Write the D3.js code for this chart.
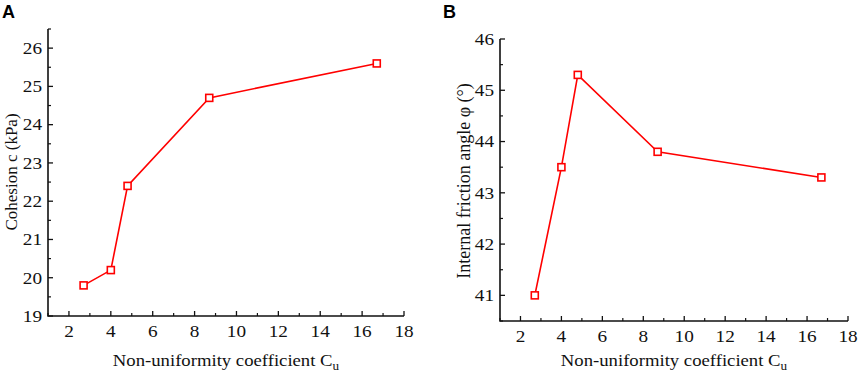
<!DOCTYPE html>
<html>
<head>
<meta charset="utf-8">
<script src="https://cdn.jsdelivr.net/npm/d3@7"></script>
<style>
  body { margin: 0; background: #fff; }
  svg { display: block; }
  .tick-label { font-family: "Liberation Serif", "Times New Roman", serif; font-size: 17.5px; fill: #111; }
  .axis-title { font-family: "Liberation Serif", "Times New Roman", serif; font-size: 17px; fill: #111; }
  .panel-label { font-family: "Liberation Sans", Arial, sans-serif; font-size: 18px; font-weight: bold; fill: #000; }
</style>
</head>
<body>
<div id="chart"></div>
<script>
// data
var cuValues = [2.7, 4.0, 4.8, 8.7, 16.7];
var cohesion = [19.8, 20.2, 22.4, 24.7, 25.6];
var frictionAngle = [41.0, 43.5, 45.3, 43.8, 43.3];

var xTicks = [2, 4, 6, 8, 10, 12, 14, 16, 18];
var cohesionTicks = [19, 20, 21, 22, 23, 24, 25, 26];
var frictionTicks = [41, 42, 43, 44, 45, 46];

// the original figure text is a little wide, so horizontal text gets stretched
var stretch = 1.1;

var svg = d3.select("#chart").append("svg")
  .attr("width", 858)
  .attr("height", 375);

function drawPanel(opt) {
  var g = svg.append("g");

  var x = d3.scaleLinear().domain([1, 18]).range([opt.left, opt.right]);
  var y = d3.scaleLinear().domain(opt.yDomain).range([opt.bottom, opt.top]);

  // minor ticks (every 1 on x, every 0.5 on y)
  var xMinor = d3.range(1, 18.01, 1).filter(d => xTicks.indexOf(d) < 0);
  var yMinor = d3.range(opt.yDomain[0], opt.yDomain[1] + 0.01, 0.5).filter(d => opt.yTicks.indexOf(d) < 0);

  g.selectAll(".xmaj").data(xTicks).enter().append("line")
    .attr("x1", d => x(d)).attr("x2", d => x(d))
    .attr("y1", opt.bottom).attr("y2", opt.bottom - 5)
    .attr("stroke", "#111").attr("stroke-width", 1.3);
  g.selectAll(".xmin").data(xMinor).enter().append("line")
    .attr("x1", d => x(d)).attr("x2", d => x(d))
    .attr("y1", opt.bottom).attr("y2", opt.bottom - 3)
    .attr("stroke", "#111").attr("stroke-width", 1.2);
  g.selectAll(".ymaj").data(opt.yTicks).enter().append("line")
    .attr("y1", d => y(d)).attr("y2", d => y(d))
    .attr("x1", opt.left).attr("x2", opt.left + 5)
    .attr("stroke", "#111").attr("stroke-width", 1.3);
  g.selectAll(".ymin").data(yMinor).enter().append("line")
    .attr("y1", d => y(d)).attr("y2", d => y(d))
    .attr("x1", opt.left).attr("x2", opt.left + 3)
    .attr("stroke", "#111").attr("stroke-width", 1.2);

  // axis lines
  g.append("path")
    .attr("d", "M" + opt.left + "," + opt.top + "V" + opt.bottom + "H" + opt.right)
    .attr("fill", "none").attr("stroke", "#111").attr("stroke-width", 1.6);

  // tick labels
  g.selectAll(".xl").data(xTicks).enter().append("text")
    .attr("class", "tick-label")
    .attr("transform", d => "translate(" + x(d) + "," + (opt.bottom + 21) + ") scale(" + stretch + ",1)")
    .attr("text-anchor", "middle")
    .text(d => d);
  g.selectAll(".yl").data(opt.yTicks).enter().append("text")
    .attr("class", "tick-label")
    .attr("transform", d => "translate(" + (opt.left - 6) + "," + y(d) + ") scale(" + stretch + ",1)")
    .attr("dy", "0.33em")
    .attr("text-anchor", "end")
    .text(d => d);

  // titles
  var xt = g.append("text")
    .attr("class", "axis-title")
    .attr("transform", "translate(" + ((opt.left + opt.right) / 2) + ",366) scale(" + stretch + ",1)")
    .attr("text-anchor", "middle");
  xt.append("tspan").text("Non-uniformity coefficient C");
  xt.append("tspan").attr("dy", 4).attr("font-size", "12px").text("u");

  g.append("text")
    .attr("class", "axis-title")
    .attr("transform", "translate(" + opt.yTitleX + "," + opt.yTitleY + ") rotate(-90)")
    .attr("text-anchor", "middle")
    .style("font-size", opt.yTitleSize + "px")
    .text(opt.yTitle);

  g.append("text")
    .attr("class", "panel-label")
    .attr("x", opt.labelX).attr("y", 18)
    .text(opt.label);

  // series
  var pts = cuValues.map((c, i) => [c, opt.values[i]]);
  var line = d3.line().x(d => x(d[0])).y(d => y(d[1]));
  g.append("path")
    .attr("d", line(pts))
    .attr("fill", "none").attr("stroke", "#ff0000").attr("stroke-width", 1.6);

  g.selectAll(".pt").data(pts).enter().append("rect")
    .attr("x", d => x(d[0]) - 3.5).attr("y", d => y(d[1]) - 3.5)
    .attr("width", 7).attr("height", 7)
    .attr("fill", "#fff").attr("stroke", "#ff0000").attr("stroke-width", 1.6);
}

drawPanel({
  left: 48, right: 404, top: 29, bottom: 316,
  yDomain: [19, 26.5], yTicks: cohesionTicks, values: cohesion,
  yTitle: "Cohesion c (kPa)", yTitleX: 17, yTitleY: 172, yTitleSize: 17, label: "A", labelX: 2
});

drawPanel({
  left: 500, right: 848, top: 39, bottom: 321,
  yDomain: [40.5, 46], yTicks: frictionTicks, values: frictionAngle,
  yTitle: "Internal friction angle φ (°)", yTitleX: 470, yTitleY: 181, yTitleSize: 18, label: "B", labelX: 443
});
</script>
</body>
</html>
